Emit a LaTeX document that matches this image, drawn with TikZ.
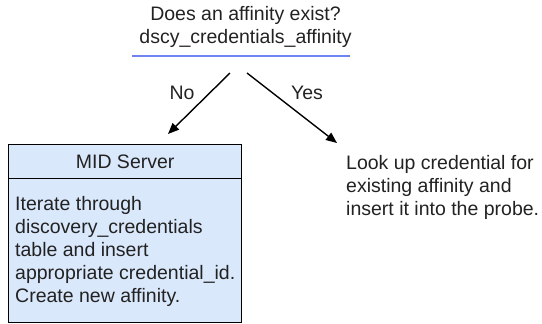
\documentclass[tikz,border=0pt]{standalone}
\usepackage{fontspec}
\setmainfont{Liberation Sans}
\usetikzlibrary{arrows.meta}
\definecolor{txt}{HTML}{222222}
\definecolor{boxfill}{HTML}{DAE8FC}
\definecolor{uline}{HTML}{6F84F0}
\tikzset{
  lbl/.style={font=\fontsize{19.5}{23}\selectfont, text=txt, inner sep=0pt},
  arr/.style={line width=1.4pt, -{Triangle[length=11pt,width=9pt]}},
  boxpart/.style={draw=black, line width=1.3pt, fill=boxfill, inner sep=0pt}
}
\begin{document}
\begin{tikzpicture}[x=1pt,y=-1pt]
\useasboundingbox (0,0) rectangle (542,324);
% title
\node[lbl, align=center, anchor=north] (title) at (245.5,6) {Does an affinity exist?\\dscy\_credentials\_affinity};
\coordinate (ulA) at (132,56);
\coordinate (ulB) at (350,56);
\draw[uline, line width=1.8pt] (ulA) -- (ulB);
% arrows
\coordinate (noS) at (230,73);
\coordinate (noE) at (168,134);
\coordinate (yesS) at (247,73);
\coordinate (yesE) at (337,143);
\draw[arr] (noS) -- (noE);
\draw[arr] (yesS) -- (yesE);
\node[lbl] (no) at (182,93) {No};
\node[lbl] (yes) at (307,93) {Yes};
% box
\node[boxpart, minimum width=233pt, minimum height=144pt, anchor=north west] (body) at (8,178) {};
\node[boxpart, minimum width=233pt, minimum height=34pt, anchor=north west] (head) at (8,144) {};
\node[lbl] (headtxt) at (head.center) {MID Server};
\node[lbl, align=left, anchor=north west] (bodytxt) at (15,196) {Iterate through\\discovery\_credentials\\table and insert\\appropriate credential\_id.\\Create new affinity.};
% right text
\node[lbl, align=left, anchor=north west] (yestxt) at (346,155) {Look up credential for\\existing affinity and\\insert it into the probe.};
\end{tikzpicture}
\end{document}
